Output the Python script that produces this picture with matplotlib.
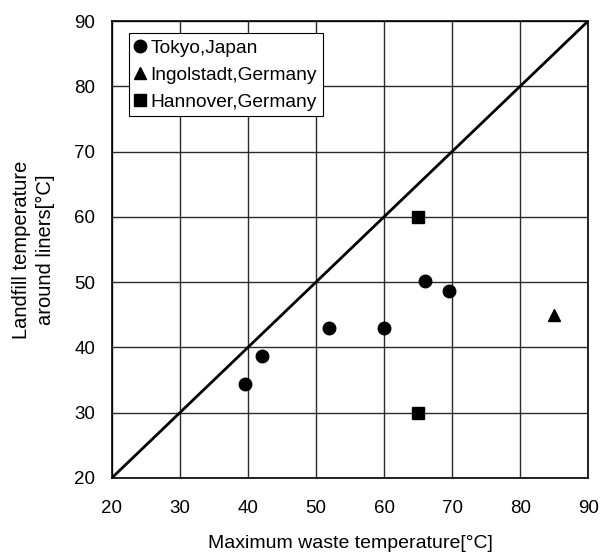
import numpy as np
from matplotlib import pyplot as plt

plt.rcParams['font.family'] = ['Liberation Sans', 'DejaVu Sans']

tokyo_x = [39.6, 42.0, 51.9, 60.0, 66.0, 69.5]
tokyo_y = [34.3, 38.6, 42.9, 43.0, 50.1, 48.7]
ingolstadt_x = [85.0]
ingolstadt_y = [45.0]
hannover_x = [65.0, 65.0]
hannover_y = [60.0, 30.0]
ticks = [20, 30, 40, 50, 60, 70, 80, 90]

fig = plt.figure(figsize=(6.02, 5.53), dpi=100)
ax = fig.add_axes([0.186, 0.136, 0.791, 0.826])

ax.plot([20, 90], [20, 90], color='black', lw=2, zorder=2)
ax.plot(tokyo_x, tokyo_y, 'o', color='black', ms=9, label='Tokyo,Japan', zorder=3)
ax.plot(ingolstadt_x, ingolstadt_y, '^', color='black', ms=9, label='Ingolstadt,Germany', zorder=3)
ax.plot(hannover_x, hannover_y, 's', color='black', ms=8, label='Hannover,Germany', zorder=3)

ax.set_xlim(20, 90)
ax.set_ylim(20, 90)
ax.set_xticks(ticks)
ax.set_yticks(ticks)
ax.grid(True, color='#2a2a2a', lw=1)
ax.set_axisbelow(True)
ax.tick_params(length=0, labelsize=13.5)
ax.tick_params(axis='x', pad=16)
ax.tick_params(axis='y', pad=12)
for s in ax.spines.values():
    s.set_linewidth(1.2)
    s.set_color('black')

ax.set_xlabel('Maximum waste temperature[°C]', fontsize=14, labelpad=13)
ax.set_ylabel('Landfill temperature\naround liners[°C]', fontsize=14.5,
              labelpad=14, linespacing=1.3)

leg = ax.legend(loc='upper left', bbox_to_anchor=(0.035, 0.973), fontsize=13.8,
                handlelength=0.6, handletextpad=0.25, borderpad=0.3,
                labelspacing=0.5, fancybox=False, framealpha=1,
                edgecolor='black', borderaxespad=0)
leg.get_frame().set_linewidth(0.8)

plt.savefig('out.png', dpi=100)
